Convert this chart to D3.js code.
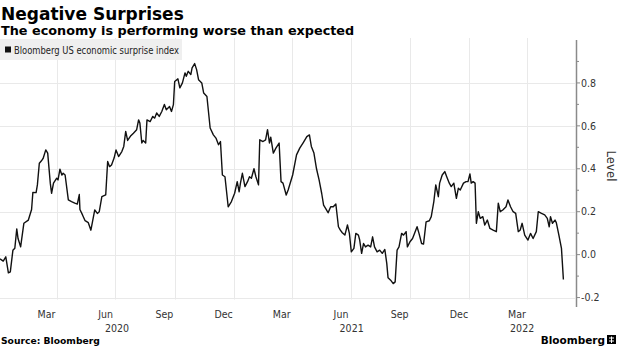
<!DOCTYPE html>
<html><head><meta charset="utf-8">
<script src="https://cdn.jsdelivr.net/npm/d3@7"></script>
<style>
body{margin:0;background:#fff}
svg{display:block}
.cond{font-family:"DejaVu Sans Condensed","Liberation Sans Narrow","DejaVu Sans",sans-serif}
.bold{font-family:"DejaVu Sans","Verdana",sans-serif;font-weight:bold}
</style>
</head><body>
<svg id="c" width="620" height="348"></svg>
<script>
// ---- data ----
const dates = [
"2020-01-04","2020-01-09","2020-01-13","2020-01-17","2020-01-20","2020-01-24","2020-01-27","2020-01-30","2020-02-01","2020-02-05",
"2020-02-10","2020-02-17","2020-02-22","2020-02-24","2020-02-29","2020-03-02","2020-03-05","2020-03-09","2020-03-11","2020-03-15",
"2020-03-18","2020-03-22","2020-03-24","2020-03-27","2020-04-01","2020-04-03","2020-04-06","2020-04-09","2020-04-11","2020-04-14",
"2020-04-19","2020-04-24","2020-04-29","2020-05-03","2020-05-06","2020-05-07","2020-05-11","2020-05-15","2020-05-20","2020-05-24",
"2020-05-28","2020-05-30","2020-06-03","2020-06-06","2020-06-10","2020-06-16","2020-06-19","2020-06-22","2020-06-25","2020-06-29",
"2020-07-02","2020-07-06","2020-07-11","2020-07-14","2020-07-17","2020-07-20","2020-07-25","2020-07-29","2020-08-03","2020-08-06",
"2020-08-08","2020-08-11","2020-08-13","2020-08-17","2020-08-19","2020-08-24","2020-08-28","2020-08-31","2020-09-03","2020-09-07",
"2020-09-11","2020-09-15","2020-09-18","2020-09-23","2020-09-26","2020-09-29","2020-10-01","2020-10-06","2020-10-09","2020-10-13",
"2020-10-17","2020-10-19","2020-10-22","2020-10-26","2020-10-28","2020-11-01","2020-11-04","2020-11-07","2020-11-12","2020-11-15",
"2020-11-20","2020-11-25","2020-11-30","2020-12-04","2020-12-08","2020-12-11","2020-12-14","2020-12-18","2020-12-23","2020-12-28",
"2021-01-02","2021-01-06","2021-01-09","2021-01-11","2021-01-14","2021-01-18","2021-01-22","2021-01-25","2021-01-28","2021-02-01",
"2021-02-04","2021-02-08","2021-02-10","2021-02-15","2021-02-19","2021-02-22","2021-02-25","2021-02-27","2021-03-03","2021-03-07",
"2021-03-12","2021-03-15","2021-03-18","2021-03-23","2021-03-26","2021-04-02","2021-04-08","2021-04-13","2021-04-18","2021-04-24",
"2021-04-28","2021-05-01","2021-05-05","2021-05-09","2021-05-13","2021-05-17","2021-05-20","2021-05-24","2021-05-27","2021-05-31",
"2021-06-04","2021-06-08","2021-06-12","2021-06-15","2021-06-18","2021-06-22","2021-06-26","2021-06-29","2021-07-02","2021-07-06",
"2021-07-09","2021-07-13","2021-07-15","2021-07-18","2021-07-21","2021-07-24","2021-07-28","2021-08-01","2021-08-04","2021-08-07",
"2021-08-11","2021-08-15","2021-08-19","2021-08-23","2021-08-26","2021-08-28","2021-09-01","2021-09-05","2021-09-08","2021-09-11",
"2021-09-14","2021-09-18","2021-09-21","2021-09-25","2021-09-27","2021-10-01","2021-10-05","2021-10-08","2021-10-12","2021-10-15",
"2021-10-19","2021-10-22","2021-10-26","2021-10-31","2021-11-03","2021-11-07","2021-11-10","2021-11-14","2021-11-16","2021-11-20",
"2021-11-24","2021-11-27","2021-12-01","2021-12-04","2021-12-08","2021-12-12","2021-12-15","2021-12-18","2021-12-23","2021-12-27",
"2021-12-30","2022-01-02","2022-01-04","2022-01-07","2022-01-10","2022-01-12","2022-01-15","2022-01-18","2022-01-22","2022-01-25",
"2022-01-29","2022-02-02","2022-02-07","2022-02-12","2022-02-15","2022-02-18","2022-02-22","2022-02-27","2022-03-02","2022-03-06",
"2022-03-10","2022-03-14","2022-03-18","2022-03-21","2022-03-24","2022-03-28","2022-04-02","2022-04-06","2022-04-10","2022-04-15",
"2022-04-18","2022-04-23","2022-04-28","2022-05-02","2022-05-05","2022-05-07","2022-05-10","2022-05-14","2022-05-16","2022-05-20",
"2022-05-24","2022-05-27"
];
const values = [
-0.02,-0.03,-0.01,-0.085,-0.08,0.02,0.03,0.12,0.075,0.036,
0.146,0.161,0.21,0.29,0.289,0.325,0.426,0.44,0.449,0.488,
0.473,0.333,0.286,0.333,0.356,0.348,0.398,0.371,0.379,0.371,
0.255,0.247,0.24,0.236,0.28,0.21,0.185,0.158,0.149,0.114,
0.177,0.208,0.192,0.2,0.27,0.278,0.434,0.41,0.418,0.45,
0.488,0.457,0.48,0.504,0.574,0.532,0.554,0.566,0.582,0.628,
0.613,0.52,0.532,0.52,0.628,0.62,0.644,0.636,0.66,0.644,
0.667,0.70,0.675,0.69,0.667,0.699,0.807,0.819,0.777,0.80,
0.847,0.831,0.854,0.839,0.87,0.89,0.862,0.815,0.80,0.753,
0.737,0.59,0.558,0.543,0.512,0.527,0.371,0.363,0.223,0.247,
0.286,0.34,0.293,0.333,0.379,0.317,0.34,0.363,0.356,0.40,
0.363,0.325,0.535,0.527,0.535,0.582,0.52,0.547,0.473,0.496,
0.52,0.34,0.333,0.278,0.301,0.371,0.465,0.496,0.52,0.55,
0.558,0.504,0.473,0.40,0.348,0.286,0.231,0.211,0.195,0.223,
0.223,0.236,0.13,0.114,0.102,0.091,0.138,0.099,0.013,0.029,
0.099,0.091,0.068,0.006,0.052,0.036,0.044,0.036,0.083,0.036,
0.013,0.021,0.006,0.024,-0.041,-0.108,-0.119,-0.135,-0.127,0.021,
0.036,0.099,0.091,0.107,0.036,0.06,0.075,0.099,0.13,0.099,
0.052,0.049,0.153,0.158,0.177,0.247,0.325,0.27,0.333,0.371,
0.387,0.363,0.333,0.317,0.333,0.262,0.309,0.301,0.333,0.34,
0.34,0.376,0.333,0.34,0.333,0.146,0.20,0.169,0.177,0.138,
0.161,0.122,0.114,0.107,0.24,0.20,0.208,0.223,0.255,0.223,
0.2,0.192,0.107,0.115,0.146,0.091,0.068,0.099,0.075,0.107,
0.20,0.192,0.185,0.169,0.13,0.177,0.146,0.161,0.149,0.091,
0.029,-0.116
];
const xDomain = ["2020-01-04","2022-06-14"];
const yDomain = [-0.23, 1.0];
const yTicks = [-0.2, 0, 0.2, 0.4, 0.6, 0.8];
const yMinorTicks = [-0.1, 0.1, 0.3, 0.5, 0.7, 0.9];
const gridDates = ["2020-04-01","2020-07-01","2020-10-01","2021-01-01","2021-04-01","2021-07-01","2021-10-01","2022-01-01","2022-04-01"];
const monthLabels = ["Mar","Jun","Sep","Dec","Mar","Jun","Sep","Dec","Mar"];
const monthLabelDates = ["2020-03-16","2020-06-16","2020-09-15","2020-12-16","2021-03-16","2021-06-16","2021-09-15","2021-12-16","2022-03-16"];
const yearLabels = ["2020","2021","2022"];
const title = "Negative Surprises";
const subtitle = "The economy is performing worse than expected";
const seriesName = "Bloomberg US economic surprise index";
const yAxisTitle = "Level";
const source = "Source: Bloomberg";

// ---- drawing ----
const parse = d3.utcParse("%Y-%m-%d");
const svg = d3.select("#c");
const plot = {left: 0, right: 575, top: 40, bottom: 304};

const x = d3.scaleUtc().domain(xDomain.map(parse)).range([plot.left, plot.right]);
const y = d3.scaleLinear().domain(yDomain).range([plot.bottom, plot.top]);

const data = dates.map((d, i) => ({date: parse(d), value: values[i]}));

// gridlines
const grid = svg.append("g").attr("stroke", "#e9e9e9").attr("stroke-width", 1);
grid.selectAll("line.h").data(yTicks).join("line")
  .attr("x1", plot.left).attr("x2", plot.right)
  .attr("y1", d => Math.round(y(d)) + 0.5).attr("y2", d => Math.round(y(d)) + 0.5);
grid.selectAll("line.v").data(gridDates.map(parse)).join("line")
  .attr("x1", d => Math.round(x(d)) + 0.5).attr("x2", d => Math.round(x(d)) + 0.5)
  .attr("y1", plot.top - 2).attr("y2", y(-0.2) + 2);

// legend box
const lg = svg.append("g");
lg.append("rect").attr("x", 0).attr("y", 39).attr("width", 182).attr("height", 21).attr("fill", "#efefef");
lg.append("rect").attr("x", 5).attr("y", 46.5).attr("width", 6).attr("height", 6).attr("fill", "#111");
lg.append("text").attr("class", "cond").attr("x", 14).attr("y", 53.5)
  .attr("font-size", 10).attr("fill", "#222").attr("textLength", 165).attr("lengthAdjust", "spacingAndGlyphs")
  .text(seriesName);

// line
svg.append("path").datum(data)
  .attr("fill", "none").attr("stroke", "#111").attr("stroke-width", 1.4).attr("stroke-linejoin", "round")
  .attr("d", d3.line().x(d => x(d.date)).y(d => y(d.value)));

// right axis
const ax = svg.append("g").attr("transform", `translate(${plot.right + 1},0)`);
ax.append("line").attr("x1", 0.5).attr("x2", 0.5).attr("y1", plot.top).attr("y2", plot.bottom + 3)
  .attr("stroke", "#8a8a8a").attr("stroke-width", 1.5);
ax.selectAll("line.maj").data(yTicks).join("line")
  .attr("x1", 0).attr("x2", 4).attr("y1", d => y(d)).attr("y2", d => y(d)).attr("stroke", "#8a8a8a");
ax.selectAll("line.min").data(yMinorTicks).join("line")
  .attr("x1", 0).attr("x2", 3).attr("y1", d => y(d)).attr("y2", d => y(d)).attr("stroke", "#8a8a8a");
ax.selectAll("text").data(yTicks).join("text")
  .attr("class", "cond").attr("x", 5).attr("y", d => y(d)).attr("dy", "0.35em")
  .attr("font-size", 10.5).attr("fill", "#333")
  .text(d => d3.format(".1f")(d).replace("−", "-"));

svg.append("text").attr("class", "cond")
  .attr("transform", `translate(607,166) rotate(90)`)
  .attr("text-anchor", "middle").attr("font-size", 13).attr("fill", "#333").text(yAxisTitle);

// x labels
svg.selectAll("text.m").data(monthLabelDates.map(parse)).join("text")
  .attr("class", "cond").attr("x", d => x(d)).attr("y", 318)
  .attr("text-anchor", "middle").attr("font-size", 10.5).attr("fill", "#333")
  .text((d, i) => monthLabels[i]);
const [d0, d1] = x.domain();
svg.selectAll("text.y").data(yearLabels).join("text")
  .attr("class", "cond")
  .attr("x", d => {
    const a = new Date(Math.max(d0, Date.UTC(+d, 0, 1)));
    const b = new Date(Math.min(d1, Date.UTC(+d + 1, 0, 1)));
    return (x(a) + x(b)) / 2;
  })
  .attr("y", 332).attr("text-anchor", "middle").attr("font-size", 10.5).attr("fill", "#333")
  .text(d => d);

// titles
svg.append("text").attr("class", "bold").attr("x", 1).attr("y", 19.5).attr("font-size", 17).attr("fill", "#000").text(title);
svg.append("text").attr("class", "bold").attr("x", 1).attr("y", 34.5).attr("font-size", 12.8).attr("fill", "#000").text(subtitle);
svg.append("text").attr("class", "bold").attr("x", 1).attr("y", 344).attr("font-size", 9.2).attr("fill", "#000").text(source);

// Bloomberg logo
svg.append("text").attr("class", "bold").attr("x", 605).attr("y", 344).attr("text-anchor", "end")
  .attr("font-size", 10.5).attr("fill", "#000").text("Bloomberg");
const logo = svg.append("g").attr("transform", "translate(607,335)");
logo.append("rect").attr("width", 9).attr("height", 9).attr("fill", "#000");
logo.append("path").attr("d", "M2,3H7M2,6H7M4.5,1.5V8").attr("stroke", "#fff").attr("stroke-width", 1);
</script>
</body></html>
